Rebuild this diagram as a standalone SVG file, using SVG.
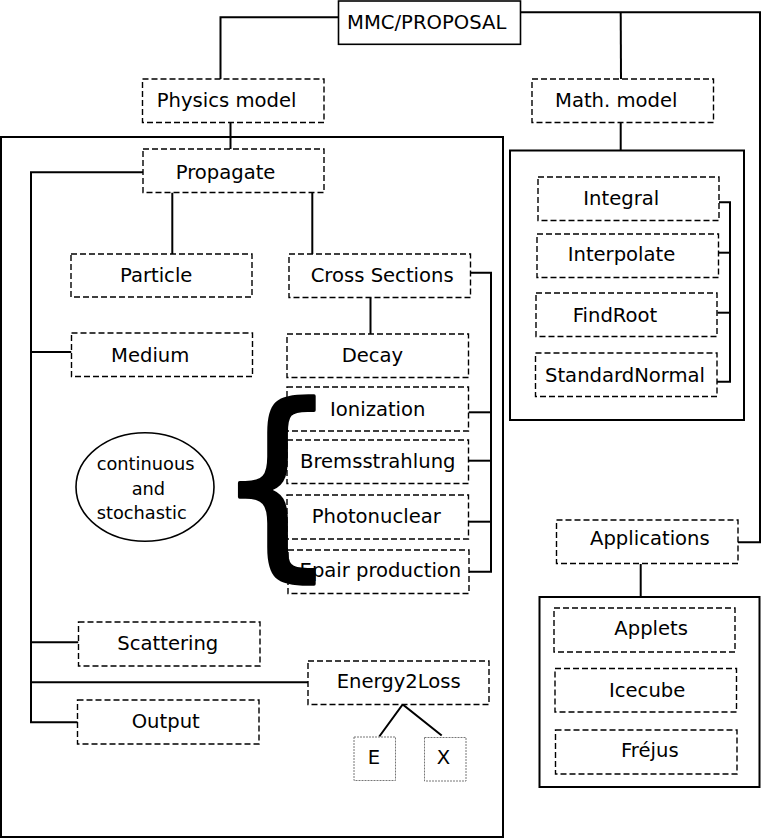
<svg xmlns="http://www.w3.org/2000/svg" width="762" height="840" viewBox="0 0 762 840">
<style>
text{font-family:"DejaVu Sans","Liberation Sans",sans-serif;font-size:19.6px;fill:#000}
.n{fill:#fff;stroke:#000;stroke-width:1.4;stroke-dasharray:6,3}
.s{fill:none;stroke:#000;stroke-width:2}
.w{fill:#fff;stroke:#000;stroke-width:1.6}
.c{fill:none;stroke:#000;stroke-width:2}
.sm{fill:#fff;stroke:#777;stroke-width:1;stroke-dasharray:2,1}
.el{font-size:17.8px}
.br{font-size:203px;stroke:#000;stroke-width:3.5;stroke-linejoin:round}
</style>
<rect width="762" height="840" fill="#fff"/>
<g id="frames">
<rect class="s" x="1" y="137" width="502" height="700"/>
<rect class="s" x="510" y="150.5" width="234" height="269.5"/>
<rect class="s" x="539.5" y="597" width="220" height="190"/>
</g>
<g id="connectors">
<polyline class="c" points="338.5,17.3 220.5,17.3 220.5,79"/>
<polyline class="c" points="520.5,12.3 760,12.3 760,542.3 738,542.3"/>
<line class="c" x1="620.7" y1="12.3" x2="621" y2="79"/>
<line class="c" x1="620.7" y1="122.5" x2="620.7" y2="151"/>
<line class="c" x1="230.5" y1="122.5" x2="230.5" y2="149"/>
<polyline class="c" points="143,172.3 31,172.3 31,722.3 78,722.3"/>
<line class="c" x1="31" y1="352" x2="71.5" y2="352"/>
<line class="c" x1="31" y1="642.3" x2="78.5" y2="642.3"/>
<line class="c" x1="31" y1="682.3" x2="308" y2="682.3"/>
<line class="c" x1="172.3" y1="192.5" x2="172.3" y2="254"/>
<line class="c" x1="312.3" y1="192.5" x2="312.3" y2="254"/>
<line class="c" x1="370.5" y1="297.5" x2="370.5" y2="334"/>
<polyline class="c" points="470.5,272.7 491,272.7 491,571.7 469,571.7"/>
<line class="c" x1="468.5" y1="412.3" x2="491" y2="412.3"/>
<line class="c" x1="468.5" y1="460.7" x2="491" y2="460.7"/>
<line class="c" x1="468.5" y1="521.7" x2="491" y2="521.7"/>
<polyline class="c" points="719,202.3 730,202.3 730,381.7 717,381.7"/>
<line class="c" x1="718.5" y1="252.7" x2="730" y2="252.7"/>
<line class="c" x1="717.5" y1="312.7" x2="730" y2="312.7"/>
<line class="c" x1="640.7" y1="564" x2="640.7" y2="597"/>
<polyline class="c" points="379.3,736.5 402.7,704.5 441.7,735.5"/>
</g>
<g id="mmc"><rect class="w" x="338.5" y="1" width="182" height="43.3"/><text x="347" y="29.3">MMC/PROPOSAL</text></g>
<g id="physics"><rect class="n" x="142.5" y="79" width="181.5" height="43.5"/><text x="156.7" y="107">Physics model</text></g>
<g id="math"><rect class="n" x="532" y="79" width="181.5" height="43.5"/><text x="555" y="106.7">Math. model</text></g>
<g id="propagate"><rect class="n" x="143" y="149" width="181" height="43.5"/><text x="175.7" y="179.3">Propagate</text></g>
<g id="particle"><rect class="n" x="71" y="254" width="181" height="43"/><text x="120" y="281.7">Particle</text></g>
<g id="medium"><rect class="n" x="71.5" y="333" width="181" height="43.5"/><text x="111" y="361.7">Medium</text></g>
<g id="cross"><rect class="n" x="289" y="254" width="181.5" height="43.5"/><text x="310.7" y="281.7">Cross Sections</text></g>
<g id="decay"><rect class="n" x="287" y="334" width="181.5" height="43.5"/><text x="341.7" y="361.7">Decay</text></g>
<g id="ionization"><rect class="n" x="287" y="387" width="181.5" height="44"/><text x="330" y="416.3">Ionization</text></g>
<g id="brems"><rect class="n" x="287" y="440" width="181.5" height="43.5"/><text x="300" y="468.3">Bremsstrahlung</text></g>
<g id="photo"><rect class="n" x="287" y="495" width="181.5" height="44"/><text x="311.7" y="522.7">Photonuclear</text></g>
<g id="epair"><rect class="n" x="288" y="550" width="181" height="43.5"/><text x="299.5" y="576.7">Epair production</text></g>
<g id="ellipse"><ellipse cx="145" cy="487" rx="69" ry="54.3" fill="#fff" stroke="#000" stroke-width="1.6"/>
<text class="el" x="96.7" y="470">continuous</text><text class="el" x="131.7" y="495">and</text><text class="el" x="96.7" y="519.3">stochastic</text></g>
<g id="brace"><text class="br" transform="translate(215.5,551) scale(0.95,1)">{</text></g>
<g id="scattering"><rect class="n" x="78.5" y="622" width="181.5" height="44"/><text x="117.3" y="650">Scattering</text></g>
<g id="output"><rect class="n" x="77.5" y="700" width="181.5" height="44"/><text x="131.7" y="728.3">Output</text></g>
<g id="energy2loss"><rect class="n" x="308" y="661" width="181" height="43.5"/><text x="336.7" y="687.7">Energy2Loss</text></g>
<g id="e"><rect class="sm" x="354" y="737" width="41.5" height="43.5"/><text x="367.7" y="764.3">E</text></g>
<g id="x"><rect class="sm" x="424.5" y="737.5" width="41.5" height="43.5"/><text x="436.7" y="764.3">X</text></g>
<g id="integral"><rect class="n" x="538" y="177" width="181" height="43.5"/><text x="583.3" y="205">Integral</text></g>
<g id="interpolate"><rect class="n" x="537" y="234" width="181.5" height="43.5"/><text x="567.7" y="260.7">Interpolate</text></g>
<g id="findroot"><rect class="n" x="536" y="293" width="181" height="43.5"/><text x="572.7" y="321.7">FindRoot</text></g>
<g id="standardnormal"><rect class="n" x="535.5" y="353" width="181.5" height="43.5"/><text x="545" y="381.7">StandardNormal</text></g>
<g id="applications"><rect class="n" x="556.5" y="520" width="181.5" height="43.5"/><text x="590" y="545">Applications</text></g>
<g id="applets"><rect class="n" x="554" y="608" width="181" height="44"/><text x="614.3" y="635">Applets</text></g>
<g id="icecube"><rect class="n" x="555" y="668.5" width="181.5" height="43.5"/><text x="609" y="696.7">Icecube</text></g>
<g id="frejus"><rect class="n" x="555.5" y="730" width="181.5" height="44"/><text x="621" y="756.7">Fréjus</text></g>
</svg>
